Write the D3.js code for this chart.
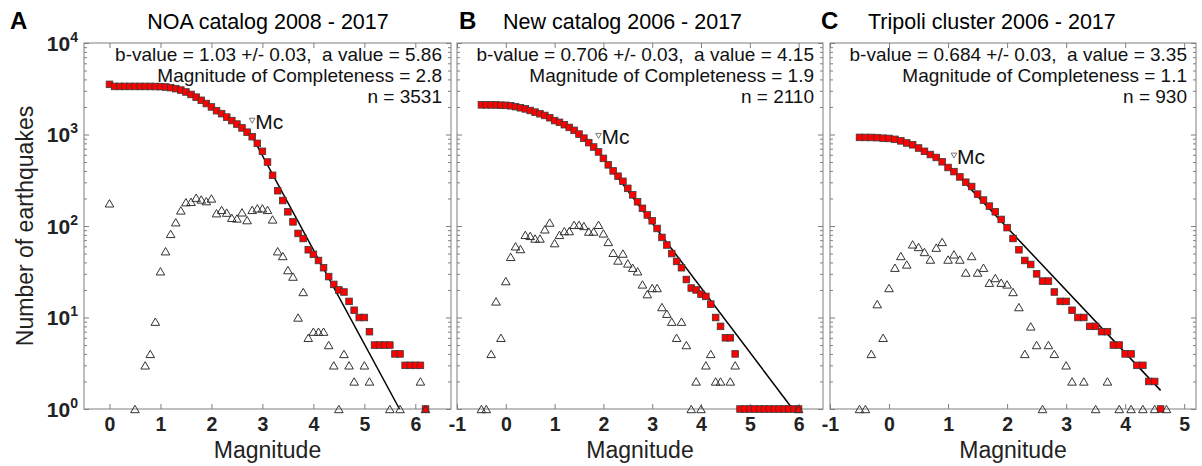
<!DOCTYPE html>
<html><head><meta charset="utf-8">
<script src="https://cdn.jsdelivr.net/npm/d3@7"></script>
<style>
body{margin:0;background:#fff}
svg{display:block}
text{font-family:"Liberation Sans",Arial,Helvetica,sans-serif}
</style></head>
<body><svg id="c" width="1202" height="466"></svg>
<script>
// ---------- DATA ----------
const cumMagA = [0.0,0.1,0.2,0.3,0.4,0.5,0.6,0.7,0.8,0.9,1.0,1.1,1.2,1.3,1.4,1.5,1.6,1.7,1.8,1.9,2.0,2.1,2.2,2.3,2.4,2.5,2.6,2.7,2.8,2.9,3.0,3.1,3.2,3.3,3.4,3.5,3.6,3.7,3.8,3.9,4.0,4.1,4.2,4.3,4.4,4.5,4.6,4.7,4.8,4.9,5.0,5.1,5.2,5.3,5.4,5.5,5.6,5.7,5.8,5.9,6.0,6.1,6.2];
const cumNA = [3531,3354,3354,3354,3354,3354,3353,3353,3350,3346,3337,3305,3252,3170,3060,2915,2740,2560,2365,2180,2000,1820,1690,1550,1420,1300,1180,1060,946,800,655,500,358,243,190,143,111,83,73,55,49,42,35,28,23,20,19,15,12,10,10,7,5,5,5,5,4,4,3,3,3,3,1];
const magA = [0.0,0.5,0.7,0.8,0.9,1.0,1.1,1.2,1.3,1.4,1.5,1.6,1.7,1.8,1.9,2.0,2.1,2.2,2.3,2.4,2.5,2.6,2.7,2.8,2.9,3.0,3.1,3.2,3.3,3.4,3.5,3.6,3.7,3.8,3.9,4.0,4.1,4.2,4.3,4.4,4.5,4.6,4.7,4.8,5.0,5.1,5.5,5.7,6.1,6.2];
const nA = [177,1,3,4,9,32,53,82,110,148,182,184,204,195,187,200,138,150,140,123,121,141,116,150,156,156,150,118,53,47,33,28,10,19,6,7,7,7,5,3,1,4,3,2,3,2,1,1,2,1];

const cumMagB = [-0.5,-0.4,-0.3,-0.2,-0.1,0.0,0.1,0.2,0.3,0.4,0.5,0.6,0.7,0.8,0.9,1.0,1.1,1.2,1.3,1.4,1.5,1.6,1.7,1.8,1.9,2.0,2.1,2.2,2.3,2.4,2.5,2.6,2.7,2.8,2.9,3.0,3.1,3.2,3.3,3.4,3.5,3.6,3.7,3.8,3.9,4.0,4.1,4.2,4.3,4.4,4.5,4.6,4.7,4.8,4.9,5.0,5.1,5.2,5.3,5.4,5.5,5.6,5.7,5.8,5.9,6.0];
const cumNB = [2110,2109,2108,2104,2089,2083,2060,2016,1960,1905,1830,1755,1685,1615,1525,1420,1358,1280,1195,1110,1010,912,815,730,645,548,466,400,350,308,258,219,184,156,132,114,94,75,62,50,41,35,26,21,20,18,17,14,10,8,6,6,4,1,1,1,1,1,1,1,1,1,1,1,1,1];
const magB = [-0.5,-0.4,-0.3,-0.2,-0.1,0.0,0.1,0.2,0.3,0.4,0.5,0.6,0.7,0.8,0.9,1.0,1.1,1.2,1.3,1.4,1.5,1.6,1.7,1.8,1.9,2.0,2.1,2.2,2.3,2.4,2.5,2.6,2.7,2.8,2.9,3.0,3.1,3.2,3.3,3.4,3.5,3.6,3.7,3.8,3.9,4.0,4.1,4.2,4.3,4.4,4.6,4.7,6.0];
const nB = [1,1,4,15,6,25,46,60,56,80,78,73,73,92,109,65,80,88,88,103,103,100,87,87,103,83,67,51,42,50,39,35,32,23,18,21,21,13,11,9,6,9,5,1,2,1,3,4,2,2,2,3,1];

const cumMagC = [-0.5,-0.4,-0.3,-0.2,-0.1,0.0,0.1,0.2,0.3,0.4,0.5,0.6,0.7,0.8,0.9,1.0,1.1,1.2,1.3,1.4,1.5,1.6,1.7,1.8,1.9,2.0,2.1,2.2,2.3,2.4,2.5,2.6,2.7,2.8,2.9,3.0,3.1,3.2,3.3,3.4,3.5,3.6,3.7,3.8,3.9,4.0,4.1,4.2,4.3,4.4,4.5,4.6];
const cumNC = [930,929,928,924,911,905,885,852,808,772,712,655,604,561,503,436,393,344,301,270,223,192,165,143,118,96,73,55,42,38,30,25,25,19,15,15,12,10,10,8,8,7,7,5,5,4,4,3,3,2,2,1];
const magC = [-0.5,-0.4,-0.3,-0.2,-0.1,0.0,0.1,0.2,0.3,0.4,0.5,0.6,0.7,0.8,0.9,1.0,1.1,1.2,1.3,1.4,1.5,1.6,1.7,1.8,1.9,2.0,2.1,2.2,2.3,2.4,2.5,2.6,2.7,2.8,3.0,3.1,3.3,3.5,3.7,3.9,4.1,4.3,4.5,4.7];
const nC = [1,1,4,14,6,21,35,47,38,63,59,52,43,58,67,43,49,43,31,47,31,35,24,27,24,23,19,13,4,8,5,1,5,4,3,2,2,1,2,1,1,1,1,1];

const titles = ["NOA catalog 2008 - 2017","New catalog 2006 - 2017","Tripoli cluster 2006 - 2017"];
const letters = ["A","B","C"];
const bValues = [1.03, 0.706, 0.684];
const aValues = [5.86, 4.15, 3.35];
const mcValues = [2.8, 1.9, 1.1];
const nTotals = [3531, 2110, 930];
const bLabels = ["1.03","0.706","0.684"];
const aLabels = ["5.86","4.15","3.35"];
const mcLabels = ["2.8","1.9","1.1"];
const xTicksA = [0,1,2,3,4,5,6];
const xTicksB = [-1,0,1,2,3,4,5,6];
const xTicksC = [-1,0,1,2,3,4,5];
const yTicks = [1,10,100,1000,10000];
const yTickExp = ["0","1","2","3","4"];
const xLabel = "Magnitude";
const yLabel = "Number of earthquakes";

// ---------- LAYOUT ----------
const TOP = 43, BOT = 409;
const panels = [
  {x0:84, x1:451, dom:[-0.5,6.7], ticks:xTicksA, cm:cumMagA, cn:cumNA, m:magA, n:nA, titleX:268, titleAnchor:"middle", letterX:10},
  {x0:457, x1:823, dom:[-1,6.5], ticks:xTicksB, cm:cumMagB, cn:cumNB, m:magB, n:nB, titleX:503, titleAnchor:"start", letterX:459},
  {x0:830, x1:1196, dom:[-1,5.2], ticks:xTicksC, cm:cumMagC, cn:cumNC, m:magC, n:nC, titleX:868, titleAnchor:"start", letterX:821}
];

const svg = d3.select("#c");
const AX = "#7f7f7f";
const y = d3.scaleLog().domain([1,1e4]).range([BOT,TOP]);
const minor = [];
[1,10,100,1000].forEach(d=>{[2,3,4,5,6,7,8,9].forEach(k=>minor.push(k*d));});

panels.forEach((p,i)=>{
  const x = d3.scaleLinear().domain(p.dom).range([p.x0,p.x1]);
  const g = svg.append("g");

  const styleAxis = sel => { sel.select(".domain").remove(); sel.selectAll("line").attr("stroke",AX); };
  g.append("g").attr("transform",`translate(0,${BOT})`)
    .call(d3.axisBottom(x).tickValues(p.ticks).tickSize(-5).tickPadding(8).tickFormat(d=>String(d)))
    .call(styleAxis)
    .call(s=>s.selectAll("text").attr("font-size",19.5).attr("font-weight","bold").attr("fill","#222")
      .attr("font-family","'Liberation Sans',Arial,sans-serif"));
  g.append("g").attr("transform",`translate(0,${TOP})`)
    .call(d3.axisTop(x).tickValues(p.ticks).tickSize(-5).tickFormat("")).call(styleAxis);
  [["L",p.x0],["R",p.x1]].forEach(([side,xx])=>{
    const mk = side==="L" ? d3.axisLeft : d3.axisRight;
    g.append("g").attr("transform",`translate(${xx},0)`)
      .call(mk(y).tickValues(yTicks).tickSize(-5).tickFormat("")).call(styleAxis);
    g.append("g").attr("transform",`translate(${xx},0)`)
      .call(mk(y).tickValues(minor).tickSize(-3).tickFormat("")).call(styleAxis);
  });
  g.append("rect").attr("x",p.x0).attr("y",TOP).attr("width",p.x1-p.x0).attr("height",BOT-TOP)
    .attr("fill","none").attr("stroke",AX).attr("stroke-width",1);

  if(i===0){
    yTicks.forEach((v,k)=>{
      const t = g.append("text").attr("x",p.x0-6).attr("y",y(v)+7.5).attr("text-anchor","end")
        .attr("font-weight","bold").attr("fill","#222").attr("font-size",21);
      t.append("tspan").text("10");
      t.append("tspan").attr("dy",-9).attr("font-size",14).text(yTickExp[k]);
    });
    svg.append("text").attr("transform",`translate(33,${(TOP+BOT)/2}) rotate(-90)`)
      .attr("text-anchor","middle").attr("font-size",23).attr("fill","#222").text(yLabel);
  }

  // fit line
  const b = bValues[i], a = aValues[i], mc = mcValues[i];
  const mEnd = Math.min(d3.max(p.cm), a/b);
  g.append("path").datum([mc, mEnd])
    .attr("d", d3.line().x(m=>x(m)).y(m=>y(Math.pow(10,a-b*m))))
    .attr("stroke","#000").attr("stroke-width",1.5).attr("fill","none");

  // cumulative squares
  const S = 6.6;
  g.append("g").selectAll("rect").data(p.cm.map((m,k)=>[m,p.cn[k]])).join("rect")
    .attr("x",d=>x(d[0])-S/2).attr("y",d=>y(d[1])-S/2).attr("width",S).attr("height",S)
    .attr("fill","#f00").attr("stroke","#3a3a3a").attr("stroke-width",0.8);

  // non-cumulative triangles
  const W = 8.6, H = 7.4;
  g.append("g").selectAll("path").data(p.m.map((m,k)=>[m,p.n[k]])).join("path")
    .attr("d",d=>{const cx=x(d[0]), cy=y(d[1]); return `M${cx},${cy-H/2}L${cx+W/2},${cy+H/2}L${cx-W/2},${cy+H/2}Z`;})
    .attr("fill","none").attr("stroke","#333").attr("stroke-width",1);

  // Mc marker
  const mcN = p.cn[p.cm.findIndex(m=>Math.abs(m-mc)<1e-6)]*1.5;
  const mx = x(mc), my = y(mcN);
  g.append("path").attr("d",`M${mx-2.8},${my-2.4}L${mx+2.8},${my-2.4}L${mx},${my+2.6}Z`)
    .attr("fill","none").attr("stroke","#555").attr("stroke-width",0.8);
  g.append("text").attr("x",mx+3).attr("y",my+8.5).attr("font-size",21).attr("fill","#111").text("Mc");

  // annotation
  const ann = [`b-value = ${bLabels[i]} +/- 0.03,  a value = ${aLabels[i]}`,
               `Magnitude of Completeness = ${mcLabels[i]}`, `n = ${nTotals[i]}`];
  ann.forEach((s,k)=>{
    g.append("text").attr("x",p.x1-9).attr("y",61+21*k).attr("text-anchor","end")
      .attr("font-size",19).attr("fill","#111").style("white-space","pre").text(s);
  });

  g.append("text").attr("x",(p.x0+p.x1)/2).attr("y",458).attr("text-anchor","middle")
    .attr("font-size",23).attr("fill","#222").text(xLabel);

  svg.append("text").attr("x",p.letterX).attr("y",29).attr("font-size",24).attr("font-weight","bold")
    .attr("fill","#000").text(letters[i]);
  svg.append("text").attr("x",p.titleX).attr("y",29).attr("text-anchor",p.titleAnchor)
    .attr("font-size",21.5).attr("fill","#000").text(titles[i]);
});
</script></body></html>
